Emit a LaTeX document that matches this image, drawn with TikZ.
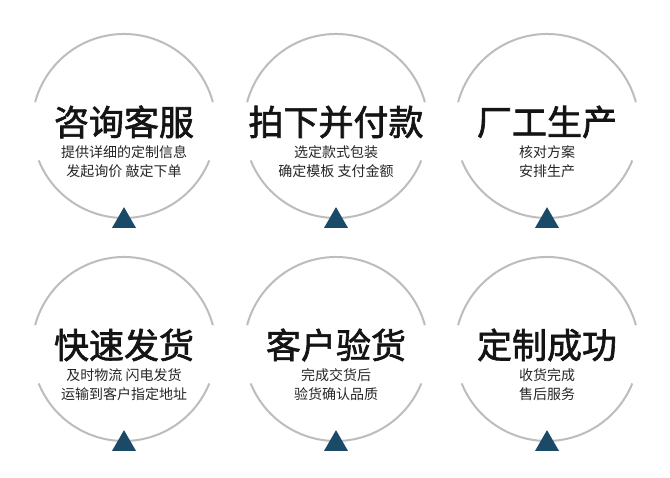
\documentclass[tikz,border=0pt]{standalone}
\usepackage{fontspec}
\usepackage{xcolor}
\usepackage{tikz}
\usetikzlibrary{shapes.geometric}
\newfontfamily\cjk{Noto Sans CJK SC}
\newfontfamily\cjkbold[FakeBold=1.8]{Noto Sans CJK SC}
\definecolor{ringgray}{HTML}{BDBDBD}
\definecolor{markblue}{HTML}{1B4A69}

\begin{document}
\begin{tikzpicture}[x=1pt, y=1pt,
  ring/.style={draw=ringgray, line width=2pt},
  marknode/.style={regular polygon, regular polygon sides=3, fill=markblue, inner sep=0pt, outer sep=0pt, minimum size=27.7pt},
  titlenode/.style={font=\cjkbold\fontsize{35}{40}\selectfont, text=black!92, inner sep=0pt},
  infonode/.style={font=\cjk\fontsize{14}{19}\selectfont, text=black!85, align=center, inner sep=0pt}]
\useasboundingbox[fill=white] (0,0) rectangle (670,478);

\coordinate (c1) at (124,352);
\coordinate (c2) at (336,352);
\coordinate (c3) at (547,352);
\coordinate (c4) at (124,129);
\coordinate (c5) at (336,129);
\coordinate (c6) at (547,129);

\draw[ring] (c1) ++(15:92) arc[start angle=15, end angle=165, radius=92];
\draw[ring] (c1) ++(202:92) arc[start angle=202, end angle=338, radius=92];
\draw[ring] (c2) ++(15:92) arc[start angle=15, end angle=165, radius=92];
\draw[ring] (c2) ++(202:92) arc[start angle=202, end angle=338, radius=92];
\draw[ring] (c3) ++(15:92) arc[start angle=15, end angle=165, radius=92];
\draw[ring] (c3) ++(202:92) arc[start angle=202, end angle=338, radius=92];
\draw[ring] (c4) ++(15:92) arc[start angle=15, end angle=165, radius=92];
\draw[ring] (c4) ++(202:92) arc[start angle=202, end angle=338, radius=92];
\draw[ring] (c5) ++(15:92) arc[start angle=15, end angle=165, radius=92];
\draw[ring] (c5) ++(202:92) arc[start angle=202, end angle=338, radius=92];
\draw[ring] (c6) ++(15:92) arc[start angle=15, end angle=165, radius=92];
\draw[ring] (c6) ++(202:92) arc[start angle=202, end angle=338, radius=92];

\node[marknode] (mark1) at ([yshift=-95]c1) {};
\node[marknode] (mark2) at ([yshift=-95]c2) {};
\node[marknode] (mark3) at ([yshift=-95]c3) {};
\node[marknode] (mark4) at ([yshift=-95]c4) {};
\node[marknode] (mark5) at ([yshift=-95]c5) {};
\node[marknode] (mark6) at ([yshift=-95]c6) {};

\node[titlenode] (title1) at ([yshift=4]c1) {咨询客服};
\node[titlenode] (title2) at ([yshift=4]c2) {拍下并付款};
\node[titlenode] (title3) at ([yshift=4]c3) {厂工生产};
\node[titlenode] (title4) at ([yshift=4]c4) {快速发货};
\node[titlenode] (title5) at ([yshift=4]c5) {客户验货};
\node[titlenode] (title6) at ([yshift=4]c6) {定制成功};

\node[infonode] (info1) at ([yshift=-36]c1) {提供详细的定制信息\\发起询价 敲定下单};
\node[infonode] (info2) at ([yshift=-36]c2) {选定款式包装\\确定模板 支付金额};
\node[infonode] (info3) at ([yshift=-36]c3) {核对方案\\安排生产};
\node[infonode] (info4) at ([yshift=-36]c4) {及时物流 闪电发货\\运输到客户指定地址};
\node[infonode] (info5) at ([yshift=-36]c5) {完成交货后\\验货确认品质};
\node[infonode] (info6) at ([yshift=-36]c6) {收货完成\\售后服务};

\end{tikzpicture}
\end{document}
